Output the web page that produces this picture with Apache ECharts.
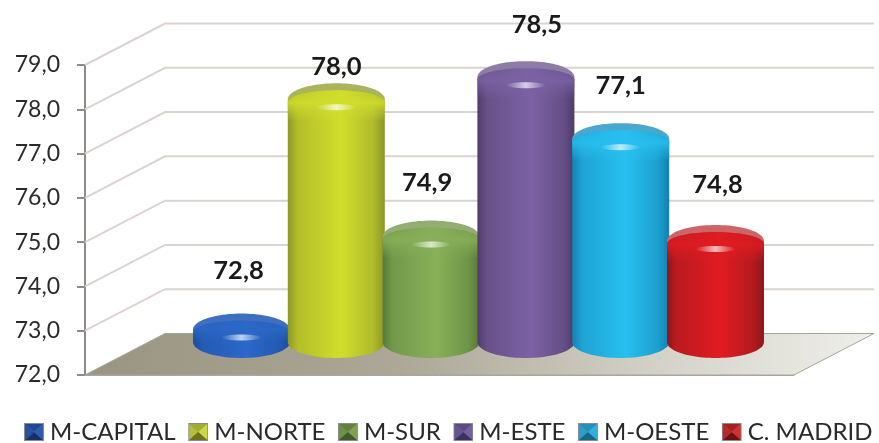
<!DOCTYPE html>
<html>
<head>
<meta charset="utf-8">
<style>html,body{margin:0;padding:0;background:#fff}#c{width:879px;height:443px}</style>
<script src="https://cdn.jsdelivr.net/npm/echarts@6/dist/echarts.min.js"></script>
</head>
<body>
<div id="c"></div>
<script>
const names = ['M-CAPITAL','M-NORTE','M-SUR','M-ESTE','M-OESTE','C. MADRID'];
const values = [72.8,78.0,74.9,78.5,77.1,74.8];
const gridValues = [73,74,75,76,77,78,79];
const edgeColors = ['#1b4c9e','#8c9728','#567a38','#4f3c6a','#1280b0','#8c181b'];
const midColors  = ['#2c68c8','#d2de2c','#88b058','#7c62a4','#27c0f0','#e01c22'];
const capColors  = ['#3f6fc0','#aab45c','#93ad72','#8d7ca6','#4aa8d0','#cc6468'];
const iconLight  = ['#2c5cb0','#d0d840','#7ea050','#7460a0','#30b0e0','#d03030'];
const iconDark   = ['#14306c','#6c7420','#3c5c28','#3c3060','#14688c','#701010'];
const labelDx = [-3,0,-4,11,0,2];
const labelDy = [59,33,54,52,53,56];

const FONT = 'Lato';
const DEPTH_X = 80, DEPTH_Y = 41.5, STEP = 94.8, RX = 48.5, RY = 16;
const BAR_DX = 39, TOP_DY = 10, BASE_DY = 33;

const fmt = v => v.toFixed(1).replace('.', ',');
const hGrad = stops => ({type:'linear',x:0,y:0,x2:1,y2:0,colorStops:stops});
const vGrad = stops => ({type:'linear',x:0,y:0,x2:0,y2:1,colorStops:stops});

function rgb(c){ return [1,3,5].map(i => parseInt(c.slice(i,i+2),16)); }
function mix(a, b, t) {
  const A = rgb(a), B = rgb(b);
  return 'rgb(' + A.map((x,i)=>Math.round(x+(B[i]-x)*t)).join(',') + ')';
}
function alpha(c, a){ return 'rgba(' + rgb(c).join(',') + ',' + a + ')'; }

// Elliptical arcs for the rounded top and foot of a cylinder
function arcTop(cx, cy, rx, ry) {
  const pts = [];
  for (let k = 0; k <= 48; k++) {
    const t = Math.PI * (1 - k / 48);
    pts.push([cx + rx * Math.cos(t), cy - ry * Math.sin(t)]);
  }
  return pts;
}
function arcFoot(cx, cy, rx, ry) {
  const pts = [];
  for (let k = 0; k <= 48; k++) {
    const t = Math.PI * k / 48;
    pts.push([cx + rx * Math.cos(t), cy + ry * Math.sin(t)]);
  }
  return pts;
}

function icon(i) {
  const L = iconLight[i], D = iconDark[i], M = mix(L, D, 0.45);
  const svg = "<svg xmlns='http://www.w3.org/2000/svg' width='20' height='18'>" +
    "<rect width='20' height='18' fill='#8a8a90'/>" +
    "<polygon points='1,1 19,1 10,9' fill='"+M+"'/>" +
    "<polygon points='1,1 1,17 10,9' fill='"+mix(L,D,0.25)+"'/>" +
    "<polygon points='19,1 19,17 10,9' fill='"+L+"'/>" +
    "<polygon points='1,17 19,17 10,9' fill='"+D+"'/></svg>";
  return 'image://data:image/svg+xml;charset=utf-8,' + encodeURIComponent(svg);
}

function renderBar(i) {
  return function (params, api) {
    const v = api.value(1);
    const top = api.coord([0, v]);
    const base = api.coord([0, 72]);
    const cx = top[0] + BAR_DX + (i - 2.5) * STEP;
    const yt = top[1] - TOP_DY, yb = base[1] - BASE_DY;
    const e = edgeColors[i], m = midColors[i], c = capColors[i];
    const body = hGrad([
      {offset:0,color:e},{offset:.1,color:mix(e,m,.55)},{offset:.55,color:m},
      {offset:.88,color:mix(e,m,.5)},{offset:1,color:e}]);
    const bandEnd = Math.min(yt + 22, yb);
    return {type:'group', children:[
      {type:'polygon',shape:{points:arcTop(cx,yt,RX,RY).concat(arcFoot(cx,yt+3,RX,6))},style:{fill:c}},
      {type:'polygon',shape:{points:arcTop(cx,yt+3,RX,12).concat(arcFoot(cx,yb,RX,RY))},style:{fill:body}},
      {type:'polygon',shape:{points:arcTop(cx,yt+3,RX,12).concat([[cx+RX,bandEnd],[cx-RX,bandEnd]])},style:{fill:vGrad([
        {offset:0,color:alpha(m,.35)},{offset:.4,color:alpha(m,.85)},{offset:.62,color:alpha(m,.5)},{offset:1,color:alpha(m,0)}])}},
      {type:'ellipse',shape:{cx:cx,cy:yt+8,rx:20,ry:3},style:{fill:hGrad([
        {offset:0,color:'rgba(255,255,255,0)'},{offset:.5,color:'rgba(255,255,255,.7)'},{offset:1,color:'rgba(255,255,255,0)'}])}},
      {type:'text',style:{x:cx+labelDx[i],y:yt-labelDy[i],text:fmt(v),align:'center',verticalAlign:'middle',
        fill:'#1a1a1a',font:'bold 25.5px '+FONT}}
    ]};
  };
}

const wallSeries = {
  type:'custom', name:'wall', silent:true, z:1, data:gridValues.map(v=>[0,v]),
  renderItem:function(p,api){
    const a = api.coord([0,api.value(1)]);
    const size = api.size([1,0])[0];
    const x0 = a[0]-size/2, y0 = a[1];
    return {type:'polyline',shape:{points:[[x0,y0],[x0+DEPTH_X,y0-DEPTH_Y],[x0+size+DEPTH_X,y0-DEPTH_Y]]},
      style:{fill:null,stroke:'#dcd3d0',lineWidth:2}};
  }
};
const floorSeries = {
  type:'custom', name:'floor', silent:true, z:2, data:[[0,72]],
  renderItem:function(p,api){
    const a = api.coord([0,72]);
    const size = api.size([1,0])[0];
    const x0 = a[0]-size/2, y0 = a[1];
    return {type:'polygon',shape:{points:[[x0,y0],[x0+DEPTH_X,y0-DEPTH_Y],[x0+size+DEPTH_X,y0-DEPTH_Y],[x0+size,y0]]},
      style:{fill:hGrad([{offset:0,color:'#9a9482'},{offset:.4,color:'#aca796'},{offset:.75,color:'#d6d5cb'},{offset:1,color:'#efefea'}]),
        stroke:'#a5a5a0',lineWidth:1}};
  }
};

const chart = echarts.init(document.getElementById('c'), null, {renderer:'canvas'});
chart.setOption({
  animation:false,
  backgroundColor:'#ffffff',
  grid:{left:85,right:85,top:65,bottom:68},
  legend:{
    left:24, top:420, padding:0, itemWidth:20, itemHeight:18, itemGap:12.5, selectedMode:false,
    textStyle:{fontFamily:FONT,fontSize:24,color:'#2a2a2a', padding:[0,0,0,1]},
    data:names.map((n,i)=>({name:n,icon:icon(i)}))
  },
  xAxis:{type:'category',data:[''],axisLine:{show:true,lineStyle:{color:'#a8a8a4',width:1}},axisTick:{show:false},axisLabel:{show:false}},
  yAxis:{type:'value',min:72,max:79,interval:1,splitLine:{show:false},
    axisLine:{show:true,lineStyle:{color:'#8f8a8a',width:2}},
    axisTick:{show:true,length:8,lineStyle:{color:'#8f8a8a',width:2}},
    axisLabel:{margin:25,color:'#2a2a2a',fontFamily:FONT,fontSize:23,formatter:v=>fmt(v)}},
  series:[wallSeries,floorSeries].concat(names.map((n,i)=>({
    type:'custom',name:n,z:3+i,data:[[0,values[i]]],encode:{x:0,y:1},
    itemStyle:{color:midColors[i]},renderItem:renderBar(i)
  })))
});
</script>
</body>
</html>
